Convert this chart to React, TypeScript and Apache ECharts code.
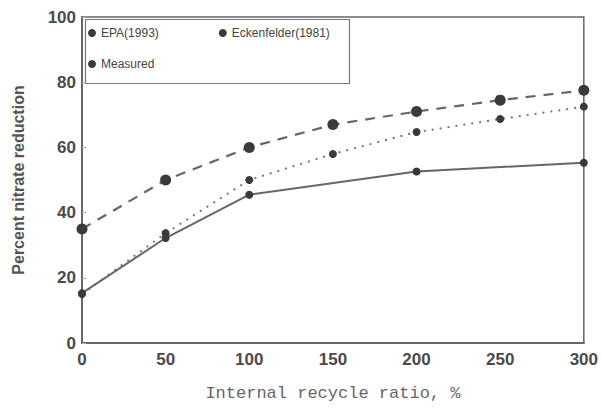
import React, { useEffect, useRef } from "react";
import * as echarts from "echarts";

const xValues = [0, 50, 100, 150, 200, 250, 300];
const epa = [35, 50, 60, 67, 71, 74.5, 77.5];
const eckenfelder = [15, 33.7, 50, 58, 64.7, 68.7, 72.5];
const measuredX = [0, 50, 100, 200, 300];
const measured = [15.3, 32.2, 45.5, 52.6, 55.3];
const seriesNames = ["EPA(1993)", "Eckenfelder(1981)", "Measured"];

export default function App() {
  const ref = useRef<HTMLDivElement>(null);
  useEffect(() => {
    if (!ref.current) return;
    const chart = echarts.init(ref.current, undefined, { renderer: "svg" });
    const tickFont = { fontFamily: "Liberation Sans, Arial, sans-serif", fontWeight: "bold" as const, fontSize: 17, color: "#4a4a4a" };
    chart.setOption({
      animation: false,
      backgroundColor: "#fff",
      grid: { left: 82, right: 16, top: 17, bottom: 66, show: true, borderColor: "#666", borderWidth: 1.5 },
      xAxis: {
        type: "value", min: 0, max: 300, interval: 50,
        name: "Internal recycle ratio, %",
        nameLocation: "middle", nameGap: 42,
        nameTextStyle: { fontFamily: "Liberation Mono, monospace", fontSize: 17, color: "#666" },
        axisLine: { lineStyle: { color: "#666", width: 2 } },
        axisTick: { show: false },
        axisLabel: { ...tickFont, margin: 8 },
        splitLine: { show: false },
      },
      yAxis: {
        type: "value", min: 0, max: 100, interval: 20,
        name: "Percent nitrate reduction",
        nameLocation: "middle", nameGap: 56,
        nameTextStyle: { fontFamily: "Liberation Sans, Arial, sans-serif", fontSize: 16, fontWeight: "bold", color: "#555" },
        axisLine: { lineStyle: { color: "#666", width: 2 } },
        axisTick: { show: true, inside: true, length: 4, lineStyle: { color: "#aaa" } },
        axisLabel: { ...tickFont, margin: 6 },
        splitLine: { show: false },
      },
      legend: [
        {
          data: [seriesNames[0], seriesNames[1]],
          left: 88, top: 27, itemGap: 60, itemWidth: 8, itemHeight: 8,
          icon: "circle", padding: 0,
          textStyle: { fontFamily: "Liberation Sans, Arial, sans-serif", fontSize: 12, color: "#444" },
        },
        {
          data: [seriesNames[2]],
          left: 88, top: 58, itemWidth: 8, itemHeight: 8,
          icon: "circle", padding: 0,
          textStyle: { fontFamily: "Liberation Sans, Arial, sans-serif", fontSize: 12, color: "#444" },
        },
      ],
      graphic: [
        {
          type: "rect", left: 83, top: 17,
          shape: { width: 264, height: 64 },
          style: { fill: "none", stroke: "#777", lineWidth: 1.2 },
          silent: true,
        },
      ],
      series: [
        {
          name: seriesNames[0], type: "line",
          data: xValues.map((x, i) => [x, epa[i]]),
          symbol: "circle", symbolSize: 11,
          itemStyle: { color: "#3a3a3a" },
          lineStyle: { color: "#666", width: 2.2, type: [10, 8] },
        },
        {
          name: seriesNames[1], type: "line",
          data: xValues.map((x, i) => [x, eckenfelder[i]]),
          symbol: "circle", symbolSize: 8,
          itemStyle: { color: "#3a3a3a" },
          lineStyle: { color: "#777", width: 2, type: [2, 6] },
        },
        {
          name: seriesNames[2], type: "line",
          data: measuredX.map((x, i) => [x, measured[i]]),
          symbol: "circle", symbolSize: 8,
          itemStyle: { color: "#3a3a3a" },
          lineStyle: { color: "#666", width: 2 },
        },
      ],
    });
    return () => chart.dispose();
  }, []);
  return <div ref={ref} style={{ width: 601, height: 409, position: "absolute", left: 0, top: 0 }} />;
}
